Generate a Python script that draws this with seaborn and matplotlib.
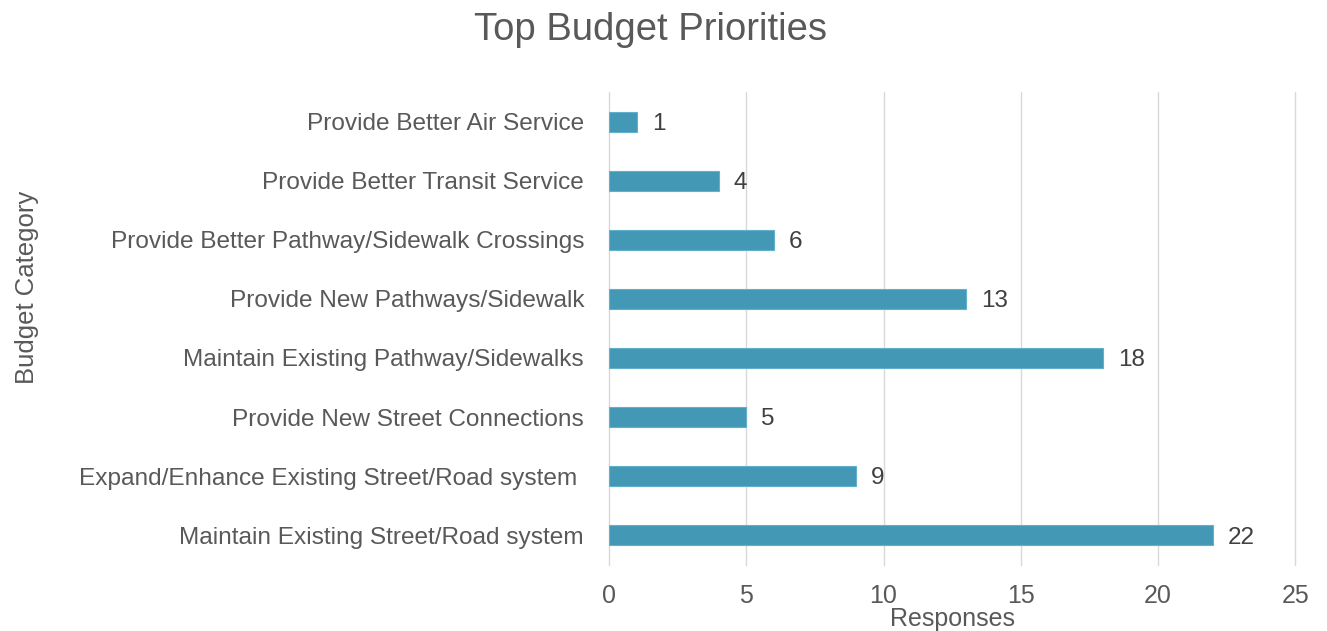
import matplotlib
matplotlib.use("Agg")
import matplotlib.pyplot as plt
import seaborn as sns
import pandas as pd

# Chart values, top to bottom as shown
categories = [
    "Provide Better Air Service",
    "Provide Better Transit Service",
    "Provide Better Pathway/Sidewalk Crossings",
    "Provide New Pathways/Sidewalk",
    "Maintain Existing Pathway/Sidewalks",
    "Provide New Street Connections",
    "Expand/Enhance Existing Street/Road system ",
    "Maintain Existing Street/Road system",
]
responses = [1, 4, 6, 13, 18, 5, 9, 22]
x_ticks = [0, 5, 10, 15, 20, 25]

df = pd.DataFrame({"Budget Category": categories, "Responses": responses})

sns.set_theme(style="whitegrid")
plt.rcParams["font.family"] = ["Liberation Sans", "DejaVu Sans"]

text_color = "#595959"
bar_color = "#4298B5"

fig = plt.figure(figsize=(13.27, 6.31), dpi=100)
ax = fig.add_axes([0.459, 0.105, 0.517, 0.749])

sns.barplot(data=df, x="Responses", y="Budget Category", orient="h",
            color=bar_color, width=0.34, saturation=1, ax=ax,
            edgecolor="#62b0cc", linewidth=0.8)

# value labels
for i, v in enumerate(responses):
    ax.text(v + 0.55, i + 0.04, str(v), va="center", ha="left",
            fontsize=17.5, color="#404040")

ax.set_xlim(0, 25)
ax.set_ylim(7.5, -0.5)
ax.set_xticks(x_ticks)
ax.grid(axis="x", color="#d9d9d9", linewidth=1)
ax.grid(axis="y", visible=False)
for gl in ax.get_xgridlines():
    gl.set_clip_on(False)
for s in ax.spines.values():
    s.set_visible(False)
ax.tick_params(axis="x", length=0, pad=14, labelsize=18, labelcolor=text_color)
ax.tick_params(axis="y", length=0, pad=18, labelsize=17.6, labelcolor=text_color)

ax.set_xlabel("Responses", fontsize=18, color=text_color)
ax.xaxis.label.set_va("center")
ax.xaxis.set_label_coords(0.5, -0.114)
ax.set_ylabel("")
fig.text(0.02, 0.545, "Budget Category", rotation=90, va="center", ha="center",
         fontsize=18.5, color=text_color)

fig.text(0.49, 0.952, "Top Budget Priorities", ha="center", va="center",
         fontsize=27.5, color=text_color)

fig.savefig("out.png", dpi=100)
